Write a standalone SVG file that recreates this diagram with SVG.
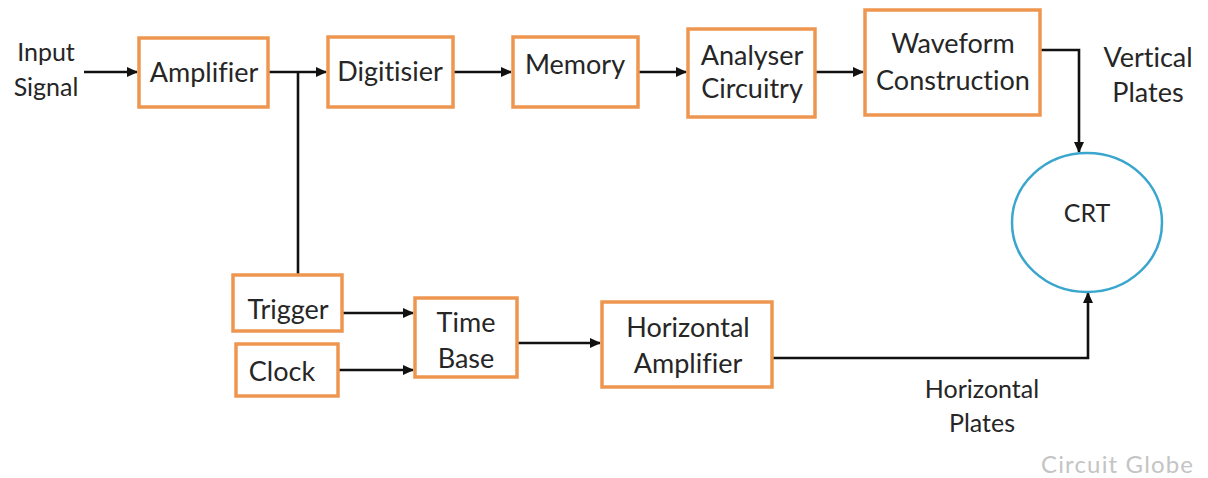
<svg xmlns="http://www.w3.org/2000/svg" width="1208" height="478" viewBox="0 0 1208 478">
<style>
text{font-variant-ligatures:none;font-feature-settings:"liga" 0}
.box{fill:#fff;stroke:#EE9650;stroke-width:3.5}
.t{font-family:Lato,"Liberation Sans",sans-serif;font-size:27px;fill:#262626;text-anchor:middle}
.lbl{font-family:Lato,"Liberation Sans",sans-serif;font-size:25px;fill:#262626;text-anchor:middle}
.c{fill:none;stroke:#111;stroke-width:2.6}
</style>
<defs>
<marker id="ah" markerWidth="11" markerHeight="11" refX="10" refY="5.5" orient="auto" markerUnits="userSpaceOnUse">
<path d="M0,0.5 L11,5.5 L0,10.5 z" fill="#111"/>
</marker>
</defs>
<rect width="1208" height="478" fill="#fff"/>
<g id="connectors">
<line class="c" x1="84" y1="72" x2="137" y2="72" marker-end="url(#ah)"/>
<line class="c" x1="269" y1="72" x2="326" y2="72" marker-end="url(#ah)"/>
<line class="c" x1="298" y1="72" x2="298" y2="274"/>
<line class="c" x1="454" y1="72" x2="511" y2="72" marker-end="url(#ah)"/>
<line class="c" x1="639" y1="72" x2="686" y2="72" marker-end="url(#ah)"/>
<line class="c" x1="816" y1="72" x2="863" y2="72" marker-end="url(#ah)"/>
<polyline class="c" points="1041,50 1079,50 1079,152" marker-end="url(#ah)"/>
<line class="c" x1="343" y1="313" x2="413" y2="313" marker-end="url(#ah)"/>
<line class="c" x1="339" y1="370" x2="413" y2="370" marker-end="url(#ah)"/>
<line class="c" x1="518" y1="343" x2="600" y2="343" marker-end="url(#ah)"/>
<polyline class="c" points="773,358 1088,358 1088,293" marker-end="url(#ah)"/>
</g>
<g id="input-signal"><text class="lbl" x="46" y="61">Input</text><text class="lbl" x="46" y="96">Signal</text></g>
<g id="amplifier"><rect class="box" x="139" y="38" width="129" height="69"/><text class="t" x="204" y="82">Amplifier</text></g>
<g id="digitisier"><rect class="box" x="328" y="37" width="125" height="70"/><text class="t" x="390" y="81">Digitisier</text></g>
<g id="memory"><rect class="box" x="513" y="37" width="125" height="70"/><text class="t" x="575" y="74">Memory</text></g>
<g id="analyser"><rect class="box" x="688" y="29" width="127" height="88"/><text class="t" x="752" y="65">Analyser</text><text class="t" x="752" y="98">Circuitry</text></g>
<g id="waveform"><rect class="box" x="865" y="10" width="175" height="105"/><text class="t" x="953" y="53">Waveform</text><text class="t" x="953" y="90">Construction</text></g>
<g id="vertical-plates"><text class="t" x="1148" y="67">Vertical</text><text class="t" x="1148" y="102">Plates</text></g>
<g id="crt"><ellipse cx="1087" cy="222.5" rx="75" ry="69.5" fill="#fff" stroke="#3AA6CE" stroke-width="2.5"/><text class="lbl" x="1087" y="222" font-size="23">CRT</text></g>
<g id="trigger"><rect class="box" x="233" y="275" width="109" height="56"/><text class="t" x="288" y="319">Trigger</text></g>
<g id="clock"><rect class="box" x="236" y="344" width="102" height="52"/><text class="t" x="282" y="381">Clock</text></g>
<g id="time-base"><rect class="box" x="415" y="298" width="102" height="79"/><text class="t" x="466" y="332">Time</text><text class="t" x="466" y="368">Base</text></g>
<g id="horizontal-amplifier"><rect class="box" x="602" y="302" width="170" height="85"/><text class="t" x="688" y="337">Horizontal</text><text class="t" x="688" y="373">Amplifier</text></g>
<g id="horizontal-plates"><text class="lbl" x="982" y="398">Horizontal</text><text class="lbl" x="982" y="432">Plates</text></g>
<text x="1041" y="473" font-family="Lato,'Liberation Sans',sans-serif" font-size="24" fill="#c4c4c4" textLength="152" lengthAdjust="spacing">Circuit Globe</text>
</svg>
